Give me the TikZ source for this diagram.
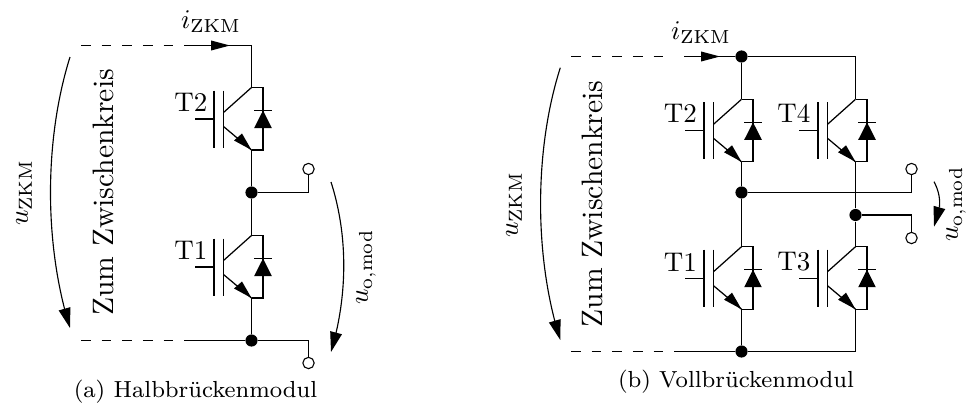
\documentclass[tikz,border=0pt]{standalone}
\usetikzlibrary{arrows.meta,bending}
\tikzset{
 wire/.style={line width=.46pt},
 dashwire/.style={line width=.46pt,dash pattern=on 3.55pt off 4.1pt},
 dotnode/.style={circle,fill=black,inner sep=0pt,minimum size=4.5pt},
 term/.style={circle,draw,fill=white,line width=.4pt,inner sep=0pt,minimum size=4.2pt},
 head/.style={-{Triangle[length=7pt,width=3.6pt]}},
 arc/.style={line width=.42pt,-{Triangle[length=7.4pt,width=4.4pt,flex]}},
 lab/.style={inner sep=0pt,font=\fontsize{10}{12}\selectfont},
 biglab/.style={inner sep=0pt,font=\fontsize{10.95}{13}\selectfont},
 caplab/.style={inner sep=0pt,font=\fontsize{8}{10}\selectfont,scale=1.076},
 igbt/.pic={
  \coordinate (-c) at (0,0);
  \coordinate (-e) at (0,62.5);
  \coordinate (-dc) at (11.5,0);
  \coordinate (-de) at (11.5,62.5);
  \draw[wire] (-28,3) -- (-28,60);
  \draw[wire] (-37.5,3) -- (-37.5,60);
  \draw[wire] (-56.5,31.5) -- (-37.5,31.5);
  \draw[wire] (-28,25) -- (-c);
  \draw[wire] (-28,39) -- (-e);
  \fill (-e) -- (-17.5,53) -- (-9.5,46) -- cycle;
  \draw[wire] (-c) -- (-dc) -- (-de) -- (-e);
  \fill (11.5,23) -- (2.7,40.5) -- (20.3,40.5) -- cycle;
  \draw[wire] (2.7,23) -- (20.3,23);
 }
}
\begin{document}
\begin{tikzpicture}[x=.3703pt,y=-.3703pt]
\useasboundingbox (0,0) rectangle (967,407);
% left
\node[dotnode] (ln1) at (251.5,192.5) {};
\node[dotnode] (ln2) at (251.5,340.5) {};
\node[term] (lt1) at (308.5,169) {};
\node[term] (lt2) at (308.5,363) {};
\coordinate (lin) at (81,45.5);
\coordinate (lmid) at (185,45.5);
\coordinate (lhead) at (195,45.5);
\coordinate (ltip) at (230,45.5);
\coordinate (ltop) at (251.5,45.5);
\coordinate (lbin) at (81,340.5);
\coordinate (lbmid) at (185,340.5);
\pic (lT2) at (251.5,87.5) {igbt};
\pic (lT1) at (251.5,235.5) {igbt};
\draw[dashwire] (lin) -- (lmid);
\draw[wire] (lmid) -- (ltop) -- (lT2-c);
\draw[head] (lhead) -- (ltip);
\draw[wire] (lT2-e) -- (ln1) -- (lT1-c);
\draw[wire] (lT1-e) -- (ln2);
\draw[wire] (ln1) -| (lt1);
\draw[dashwire] (lbin) -- (lbmid);
\draw[wire] (lbmid) -- (ln2);
\draw[wire] (ln2) -| (lt2);
\coordinate (lua) at (70,57); \coordinate (lub) at (70,328);
\draw[arc] (lua) .. controls (44,140) and (44,245) .. (lub);
\coordinate (lva) at (331,182); \coordinate (lvb) at (331,352);
\draw[arc] (lva) .. controls (348,235) and (348,295) .. (lvb);
\node[lab,rotate=90] (lu) at (24,193) {$u_{\mathrm{ZKM}}$};
\node[biglab,rotate=90] (lz) at (103,192.5) {Zum Zwischenkreis};
\node[lab,anchor=east] (lT2l) at (208,102) {T2};
\node[lab,anchor=east] (lT1l) at (208,250) {T1};
\node[lab] (li) at (211,21.5) {$i_{\mathrm{ZKM}}$};
\node[lab,rotate=90] (lv) at (366,267) {$u_{\mathrm{o,mod}}$};
\node[caplab] (lc) at (195.5,392) {(a) Halbbrückenmodul};
% right
\node[dotnode] (rn0) at (741.5,56.5) {};
\node[dotnode] (rn1) at (741.5,192.5) {};
\node[dotnode] (rn2) at (741.5,351.5) {};
\node[dotnode] (rn3) at (855.5,215) {};
\node[term] (rt1) at (911.5,169) {};
\node[term] (rt2) at (911.5,238) {};
\coordinate (rin) at (571,56.5);
\coordinate (rdash) at (670,56.5);
\coordinate (rmid) at (684,56.5);
\coordinate (rhead) at (700,56.5);
\coordinate (rtip) at (720,56.5);
\coordinate (rtop) at (855.5,56.5);
\coordinate (rbin) at (571,351.5);
\coordinate (rbmid) at (674,351.5);
\coordinate (rbot) at (855.5,351.5);
\pic (rT2) at (741.5,99.3) {igbt};
\pic (rT1) at (741.5,246.7) {igbt};
\pic (rT4) at (855.5,99.3) {igbt};
\pic (rT3) at (855.5,246.7) {igbt};
\draw[dashwire] (rin) -- (rdash);
\draw[wire] (rmid) -- (rn0) -- (rtop) -- (rT4-c);
\draw[head] (rhead) -- (rtip);
\draw[wire] (rn0) -- (rT2-c);
\draw[wire] (rT2-e) -- (rn1) -- (rT1-c);
\draw[wire] (rT1-e) -- (rn2);
\draw[wire] (rT4-e) -- (rn3) -- (rT3-c);
\draw[wire] (rT3-e) -- (rbot) -- (rn2);
\draw[wire] (rn1) -| (rt1);
\draw[wire] (rn3) -| (rt2);
\draw[dashwire] (rbin) -- (rbmid);
\draw[wire] (rbmid) -- (rn2);
\coordinate (rua) at (560.3,67.7); \coordinate (rub) at (560.3,340);
\draw[arc] (rua) .. controls (534,150) and (534,258) .. (rub);
\coordinate (rva) at (934,181.7); \coordinate (rvb) at (934,226.7);
\draw[arc] (rva) .. controls (941,195) and (942,208) .. (rvb);
\node[lab,rotate=90] (ru) at (514,205) {$u_{\mathrm{ZKM}}$};
\node[biglab,rotate=90] (rz) at (592.5,204) {Zum Zwischenkreis};
\node[lab,anchor=east] (rT2l) at (697.5,113) {T2};
\node[lab,anchor=east] (rT1l) at (697.5,262) {T1};
\node[lab,anchor=east] (rT4l) at (811,113) {T4};
\node[lab,anchor=east] (rT3l) at (811,262) {T3};
\node[lab] (ri) at (701,33) {$i_{\mathrm{ZKM}}$};
\node[lab,rotate=90] (rv) at (956,204) {$u_{\mathrm{o,mod}}$};
\node[caplab] (rc) at (736,382) {(b) Vollbrückenmodul};
\end{tikzpicture}
\end{document}
